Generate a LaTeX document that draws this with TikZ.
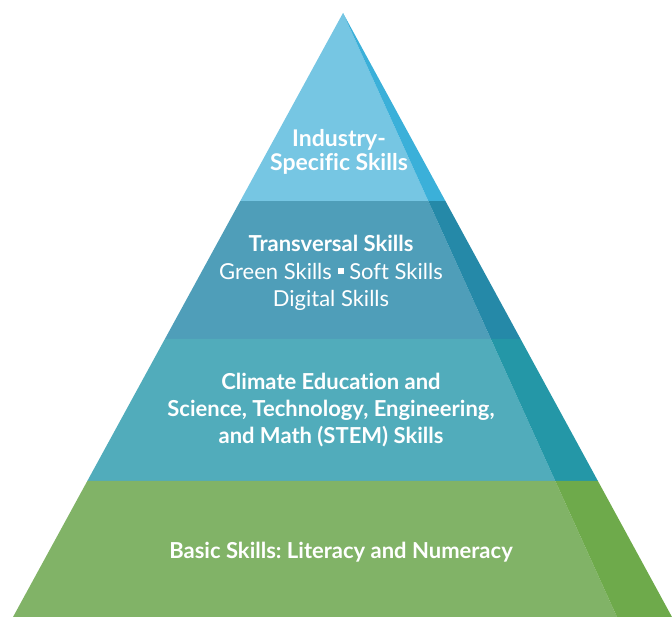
\documentclass[tikz,border=0pt]{standalone}
\usepackage{fontspec}
\setmainfont{Lato}[Ligatures=NoCommon]
\usetikzlibrary{calc}
\definecolor{topfront}{HTML}{76C6E3}
\definecolor{topside}{HTML}{3BB0D9}
\definecolor{trafront}{HTML}{4F9EB9}
\definecolor{traside}{HTML}{2589A8}
\definecolor{clifront}{HTML}{51ACBB}
\definecolor{cliside}{HTML}{2497A7}
\definecolor{basfront}{HTML}{81B367}
\definecolor{basside}{HTML}{6EAA4B}
\begin{document}
\frenchspacing
\begin{tikzpicture}[x=1pt,y=-1pt,
    lbl/.style={text=white,align=center,inner sep=0pt,font=\fontsize{22}{27.3}\selectfont},
    hd/.style={lbl,font=\fontsize{22}{27.3}\selectfont\bfseries}]
  \useasboundingbox (0,0) rectangle (672,617);
  % ---- corners of the pyramid ----
  \coordinate (A)  at (343,13);
  \coordinate (BL) at (13,617);
  \coordinate (BF) at (617,617);
  \coordinate (BR) at (672,617);
  % ---- the four bands, front face and dark side ----
  \foreach \ta/\tb/\fr/\sd in {0/0.3113/topfront/topside,
      0.3113/0.5397/trafront/traside,
      0.5397/0.7748/clifront/cliside,
      0.7748/1/basfront/basside}{
    \fill[\fr] ($(A)!\ta!(BL)$) -- ($(A)!\tb!(BL)$) -- ($(A)!\tb!(BF)$) -- ($(A)!\ta!(BF)$) -- cycle;
    \fill[\sd] ($(A)!\ta!(BF)$) -- ($(A)!\tb!(BF)$) -- ($(A)!\tb!(BR)$) -- ($(A)!\ta!(BR)$) -- cycle;
  }
  % ---- labels ----
  \node[hd,font=\fontsize{23}{24.5}\selectfont\bfseries] (ind) at (339,152) {Industry-\\Specific Skills};
  \node[lbl] (tra) at (331,273) {\textbf{Transversal Skills}\\Green Skills \raisebox{0.22em}{\rule{0.28em}{0.28em}} Soft Skills\\Digital Skills};
  \node[hd] (cli) at (331,410) {Climate Education and\\Science, Technology, Engineering,\\and Math (STEM) Skills};
  \node[hd] (bas) at (341,552) {Basic Skills: Literacy and Numeracy};
\end{tikzpicture}
\end{document}
